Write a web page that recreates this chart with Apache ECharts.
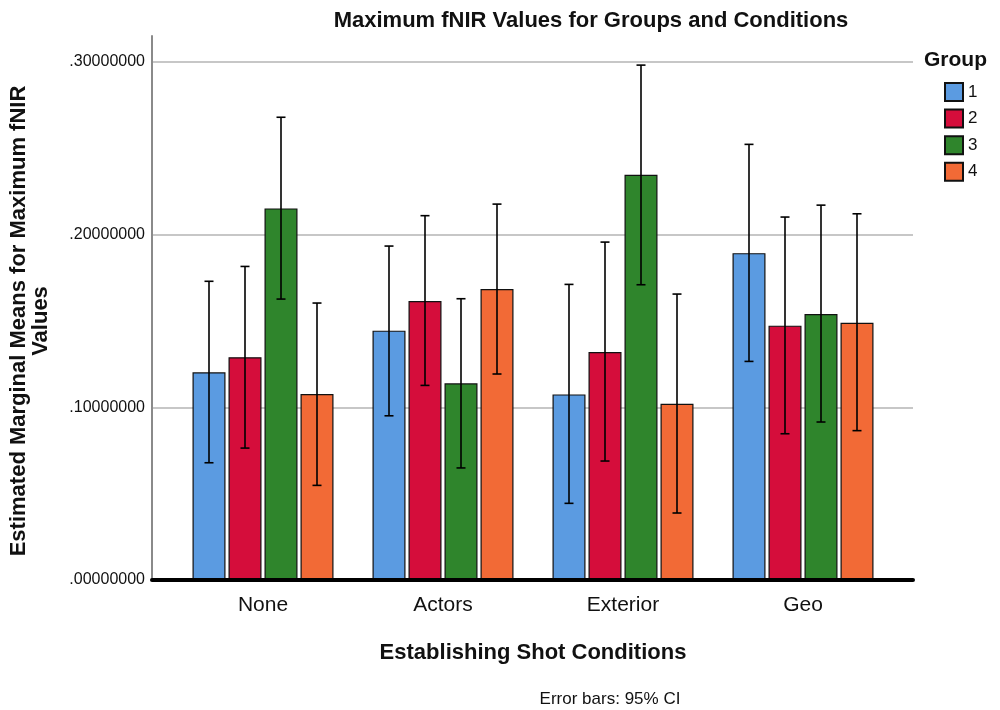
<!DOCTYPE html>
<html>
	<head>
		<meta charset="UTF-8">
		<title>Maximum fNIR Values</title>
		<script src="https://cdn.jsdelivr.net/npm/echarts@6/dist/echarts.min.js"></script>
		<style>
			html, body { margin: 0; padding: 0; background: #fff; }
			#main { width: 1000px; height: 710px; }
		</style>
	</head>
	<body>
		<div id="main"></div>
		<script>
	// data
	var categories = ['None', 'Actors', 'Exterior', 'Geo'];
	var groups = ['1', '2', '3', '4'];
	var yTicks = [0, 0.1, 0.2, 0.3];

	var means1 = [0.1203, 0.1444, 0.1075, 0.1893];
	var means2 = [0.1290, 0.1616, 0.1320, 0.1473];
	var means3 = [0.2152, 0.1139, 0.2347, 0.1540];
	var means4 = [0.1077, 0.1685, 0.1021, 0.1490];

	var ciLow1 = [0.0679, 0.0951, 0.0444, 0.1266];
	var ciHigh1 = [0.1730, 0.1934, 0.1712, 0.2523];
	var ciLow2 = [0.0764, 0.1127, 0.0689, 0.0847];
	var ciHigh2 = [0.1816, 0.2110, 0.1957, 0.2102];
	var ciLow3 = [0.1627, 0.0649, 0.1710, 0.0915];
	var ciHigh3 = [0.2680, 0.1629, 0.2982, 0.2171];
	var ciLow4 = [0.0548, 0.1193, 0.0388, 0.0865];
	var ciHigh4 = [0.1604, 0.2177, 0.1656, 0.2121];

	var colors = ['#5b9be1', '#d50d3b', '#2f852c', '#f26a36'];
	var font = '"Liberation Sans", Arial, sans-serif';

	var means = [means1, means2, means3, means4];
	var lows = [ciLow1, ciLow2, ciLow3, ciLow4];
	var highs = [ciHigh1, ciHigh2, ciHigh3, ciHigh4];

	var barWidth = 33;
	var barSpace = 3;

	var myChart = echarts.init(document.getElementById('main'));

	function errorSeries(g) {
		var data = categories.map(function (c, i) {
			return [i, lows[g][i], highs[g][i]];
		});
		var offset = (g - (groups.length - 1) / 2) * (barWidth + barSpace);
		return {
			type: 'custom',
			xAxisIndex: 2,
			yAxisIndex: 2,
			z: 5,
			silent: true,
			data: data,
			renderItem: function (params, api) {
				var lo = api.coord([api.value(0), api.value(1)]);
				var hi = api.coord([api.value(0), api.value(2)]);
				var x = lo[0] + offset;
				var cap = 4.5;
				var st = { stroke: '#000', lineWidth: 1.6 };
				return {
					type: 'group',
					children: [
						{ type: 'line', shape: { x1: x, y1: lo[1], x2: x, y2: hi[1] }, style: st },
						{ type: 'line', shape: { x1: x - cap, y1: lo[1], x2: x + cap, y2: lo[1] }, style: st },
						{ type: 'line', shape: { x1: x - cap, y1: hi[1], x2: x + cap, y2: hi[1] }, style: st }
					]
				};
			}
		};
	}

	var series = [];
	groups.forEach(function (name, g) {
		series.push({
			name: name,
			type: 'bar',
			xAxisIndex: 2,
			yAxisIndex: 2,
			barWidth: barWidth,
			barGap: (barSpace / barWidth * 100) + '%',
			data: means[g],
			itemStyle: { color: colors[g], borderColor: '#111', borderWidth: 1.2 }
		});
	});
	groups.forEach(function (name, g) {
		series.push(errorSeries(g));
	});

	var option = {
		animation: false,
		textStyle: { fontFamily: font },
		title: [
			{
				text: 'Maximum fNIR Values for Groups and Conditions',
				left: 586, top: 5, textAlign: 'center',
				textStyle: { fontFamily: font, fontSize: 22, fontWeight: 'bold', color: '#111' }
			},
			{
				text: 'Group',
				left: 919, top: 45,
				textStyle: { fontFamily: font, fontSize: 21, fontWeight: 'bold', color: '#111' }
			},
			{
				text: 'Error bars: 95% CI',
				left: 605, top: 686, textAlign: 'center',
				textStyle: { fontFamily: font, fontSize: 17, fontWeight: 'normal', color: '#111' }
			}
		],
		legend: {
			data: groups,
			orient: 'vertical',
			left: 944, top: 82,
			padding: 0,
			itemWidth: 18, itemHeight: 18, itemGap: 6.6,
			icon: 'rect',
			textStyle: { fontFamily: font, fontSize: 17, color: '#111' }
		},
		grid: [
			{ left: 152, right: 87, top: 62, bottom: 130 },
			{ left: 152, right: 87, top: 36, bottom: 130 },
			{ left: 173, right: 107, top: 62, bottom: 130 }
		],
		xAxis: [
			{ gridIndex: 0, type: 'value', show: false, min: 0, max: 1 },
			{
				gridIndex: 1, type: 'value', min: 0, max: 1, z: 10,
				axisLine: { show: true, lineStyle: { color: '#000', width: 4 } },
				axisTick: { show: false }, axisLabel: { show: false }, splitLine: { show: false }
			},
			{
				gridIndex: 2, type: 'category', data: categories,
				axisLine: { show: false }, axisTick: { show: false },
				axisLabel: { fontFamily: font, fontSize: 21, color: '#111', margin: 15 },
				name: 'Establishing Shot Conditions',
				nameLocation: 'middle', nameGap: 62,
				nameTextStyle: { fontFamily: font, fontSize: 22, fontWeight: 'bold', color: '#111' }
			}
		],
		yAxis: [
			{
				gridIndex: 0, type: 'value', min: yTicks[0], max: yTicks[yTicks.length - 1], interval: 0.1,
				axisLine: { show: false }, axisTick: { show: false },
				splitLine: { show: true, lineStyle: { color: '#b4b4b4', width: 1.5 } },
				axisLabel: {
					fontFamily: font, fontSize: 16, color: '#111', margin: 7,
					formatter: function (v) { return v.toFixed(8).replace(/^0/, ''); }
				},
				name: 'Estimated Marginal Means for Maximum fNIR\nValues',
				nameLocation: 'middle', nameGap: 100, nameRotate: 90,
				nameTextStyle: { fontFamily: font, fontSize: 22, fontWeight: 'bold', color: '#111', lineHeight: 22 }
			},
			{
				gridIndex: 1, type: 'value', min: 0, max: 0.315,
				axisLine: { show: true, lineStyle: { color: '#8a8a8a', width: 2 } },
				axisTick: { show: false }, axisLabel: { show: false }, splitLine: { show: false }
			},
			{
				gridIndex: 2, type: 'value', min: 0, max: 0.3, show: false
			}
		],
		series: series
	};
	myChart.setOption(option);
		</script>
	</body>
</html>
